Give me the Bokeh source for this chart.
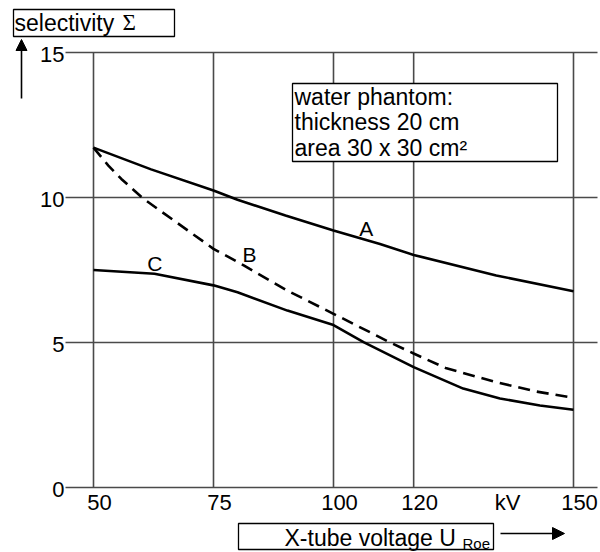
import numpy as np
from bokeh.plotting import figure
from bokeh.models import Range1d, Label, Arrow, NormalHead, PolyAnnotation
from bokeh.core.properties import value
from bokeh.embed import file_html
from bokeh.resources import INLINE

# ---------------- data ----------------
# printed grid lines of the x axis (kV) and where each sits on the drawn (non-uniform) axis
axis_kv = [50, 75, 100, 120, 150]
axis_pos = [50, 75, 100, 116.7, 150]
x_tick_labels = ["50", "75", "100", "120", "150"]
y_ticks = [0, 5, 10, 15]
y_tick_labels = ["0", "5", "10", "15"]
x_unit = "kV"

kv_A = [50, 62, 75, 80, 90, 100, 111.6, 120, 135.5, 150]
sel_A = [11.72, 10.97, 10.24, 9.92, 9.38, 8.86, 8.40, 8.02, 7.31, 6.77]

kv_B = [50, 53.1, 55.8, 60.3, 75, 81.3, 90.4, 100, 114, 120, 126, 135.5, 143, 150]
sel_B = [11.72, 11.10, 10.64, 9.97, 8.23, 7.66, 6.79, 5.99, 5.01, 4.62, 4.12, 3.63, 3.31, 3.09]

kv_C = [50, 62.7, 75, 80, 90.4, 100, 107.5, 120, 129.3, 136.2, 143.7, 150]
sel_C = [7.50, 7.37, 6.97, 6.73, 6.10, 5.60, 5.01, 4.15, 3.41, 3.07, 2.83, 2.68]

curve_names = ["A", "B", "C"]
curve_label_kv = [108.2, 82.5, 62.8]
curve_label_sel = [8.93, 8.03, 7.72]


def to_pos(kv):
    return np.interp(kv, axis_kv, axis_pos)


# ---------------- figure (frame = whole canvas) ----------------
W, H = 600, 552
PXU_X, X50_PX = 4.8, 93.0      # pixels per axis unit, pixel column of the 50 kV line
PXU_Y, Y0_PX = 29.0, 487.0     # pixels per selectivity unit, pixel row of 0


def dx(px):
    return 50 + (px - X50_PX) / PXU_X


def dy(py):
    return (Y0_PX - py) / PXU_Y


p = figure(width=W, height=H, x_range=Range1d(dx(0), dx(W)), y_range=Range1d(dy(H), dy(0)),
           output_backend="svg", toolbar_location=None, tools="",
           x_axis_type=None, y_axis_type=None,
           min_border_left=0, min_border_right=0, min_border_top=0, min_border_bottom=0)
p.outline_line_color = None
p.background_fill_color = "white"
p.border_fill_color = "white"

FONT = "Liberation Sans"
GRID = "#4a4a4a"
plot_left, plot_right = dx(65), dx(597)

# grid lines
p.segment(x0=axis_pos, y0=[y_ticks[0]] * len(axis_pos), x1=axis_pos, y1=[y_ticks[-1]] * len(axis_pos),
          line_color=GRID, line_width=1.6)
p.segment(x0=[plot_left] * len(y_ticks), y0=y_ticks, x1=[plot_right] * len(y_ticks), y1=y_ticks,
          line_color=GRID, line_width=1.6)

# tick labels
p.text(x=axis_pos, y=[y_ticks[0]] * len(axis_pos), text=x_tick_labels, text_font=value(FONT),
       text_font_size="22px", text_align="center", text_baseline="middle",
       x_offset=6, y_offset=14.5, text_color="black")
p.text(x=[plot_left] * len(y_ticks), y=y_ticks, text=y_tick_labels, text_font=value(FONT),
       text_font_size="22px", text_align="right", text_baseline="middle",
       x_offset=-1, y_offset=1.5, text_color="black")
p.add_layout(Label(x=dx(507), y=0, y_offset=-14.5, text=x_unit, text_font=FONT, text_font_size="22px",
                   text_align="center", text_baseline="middle", text_color="black"))

# curves
p.line(to_pos(kv_A), sel_A, line_color="black", line_width=2.6)
p.line(to_pos(kv_B), sel_B, line_color="black", line_width=2.6, line_dash="12 7")
p.line(to_pos(kv_C), sel_C, line_color="black", line_width=2.6)

for name, kv, s in zip(curve_names, curve_label_kv, curve_label_sel):
    p.add_layout(Label(x=float(to_pos(kv)), y=s, text=name, text_font=FONT, text_font_size="21px",
                       text_align="center", text_baseline="middle", text_color="black"))


def box(l, t, r, b):
    p.add_layout(PolyAnnotation(xs=[dx(l), dx(r), dx(r), dx(l)], ys=[dy(t), dy(t), dy(b), dy(b)],
                                fill_color="white", fill_alpha=1.0, line_color="black",
                                line_alpha=1.0, line_width=1.3))


def txt(s, px, py_mid, size="23px", font=FONT):
    p.add_layout(Label(x=dx(px), y=dy(py_mid), text=s, text_font=font, text_font_size=size,
                       text_align="left", text_baseline="middle", text_color="black"))


# water phantom note
box(292, 83, 557, 161)
for s, mid in zip(["water phantom:", "thickness 20 cm", "area 30 x 30 cm\u00b2"], [96, 121.5, 147]):
    txt(s, 294, mid)

# y title with upward arrow
box(13, 9, 174, 36)
txt("selectivity", 14, 22)
txt("\u03a3", 122, 22, font="Liberation Serif")
p.add_layout(Arrow(x_start=dx(21), y_start=dy(98), x_end=dx(21), y_end=dy(39), line_width=1.6,
                   line_color="black", end=NormalHead(size=11, fill_color="black", line_color="black")))

# x title with arrow
box(238, 523, 493, 549)
txt("X-tube voltage U", 284, 537.5)
txt("Roe", 462, 542.5, size="15px")
p.add_layout(Arrow(x_start=dx(500), y_start=dy(533), x_end=dx(564), y_end=dy(533), line_width=1.6,
                   line_color="black", end=NormalHead(size=12, fill_color="black", line_color="black")))

open("out.html", "w").write(file_html(p, INLINE))
